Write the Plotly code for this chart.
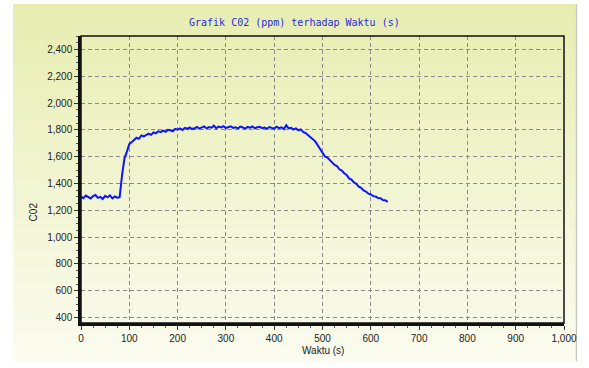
import plotly.graph_objects as go

# ---- data ----
time_s = list(range(0, 640, 5))
co2_ppm = [
    1302, 1291, 1310, 1296, 1289, 1306, 1314, 1293, 1300, 1285, 1308, 1297, 1312, 1290, 1303, 1294,
    1298, 1462, 1588, 1638, 1694, 1709, 1727, 1741, 1733, 1758, 1751, 1764, 1772, 1763, 1781, 1774,
    1789, 1783, 1794, 1786, 1801, 1797, 1790, 1808, 1802, 1811, 1799, 1814, 1808, 1819, 1806, 1812,
    1822, 1810, 1818, 1826, 1811, 1821, 1816, 1831, 1813, 1824, 1819, 1828, 1814, 1822, 1827, 1815,
    1820, 1811, 1824, 1818, 1809, 1822, 1816, 1826, 1812, 1819, 1823, 1813, 1818, 1808, 1821, 1815,
    1810, 1824, 1813, 1819, 1806, 1834, 1812, 1816, 1803, 1811, 1797, 1804, 1785, 1776, 1762, 1750,
    1731, 1714, 1688, 1662, 1627, 1602, 1594, 1574, 1561, 1538, 1530, 1506, 1497, 1476, 1464, 1438,
    1430, 1408, 1398, 1376, 1368, 1349, 1340, 1324, 1318, 1306, 1304, 1291, 1290, 1277, 1276, 1263,
]
x_ticks = [0, 100, 200, 300, 400, 500, 600, 700, 800, 900, 1000]
y_ticks = [400, 600, 800, 1000, 1200, 1400, 1600, 1800, 2000, 2200, 2400]
title_text = "Grafik C02 (ppm) terhadap Waktu (s)"
x_title = "Waktu (s)"
y_title = "C02"

W, H = 589, 368
L, R, T, B = 81, 571, 36, 323.5
pw, ph = R - L, B - T


def px(x):
    return (x - L) / pw


def py(y):
    return (B - y) / ph


fig = go.Figure()
fig.add_trace(go.Scatter(x=time_s, y=co2_ppm, mode="lines",
                         line=dict(color="#0a14ff", width=2), showlegend=False))

shapes = []
# panel gradient
top_c = (231, 237, 176)
bot_c = (251, 252, 240)
n = 60
y0p, y1p = 4, 362
for i in range(n):
    a = y0p + (y1p - y0p) * i / n
    b = y0p + (y1p - y0p) * (i + 1) / n
    f = (i + 0.5) / n
    c = tuple(int(round(top_c[k] + (bot_c[k] - top_c[k]) * f)) for k in range(3))
    shapes.append(dict(type="rect", xref="paper", yref="paper", layer="below",
                       x0=px(12), x1=px(583), y0=py(b + 0.6), y1=py(a),
                       fillcolor="rgb(%d,%d,%d)" % c, line=dict(width=0)))
# panel right border
shapes.append(dict(type="line", xref="paper", yref="paper", layer="below",
                   x0=px(583.5), x1=px(583.5), y0=py(4), y1=py(362),
                   line=dict(color="#b8b8b0", width=1)))
# frame top/right
shapes.append(dict(type="rect", xref="paper", yref="paper", layer="above",
                   x0=0, x1=1, y0=0, y1=1, line=dict(color="#111", width=1.5)))
fig.update_layout(shapes=shapes)

axis_font = dict(family="Liberation Sans, Arial, sans-serif", size=10, color="#222")
common = dict(tickformat=",d", showline=True, linecolor="#111", linewidth=2.5,
              ticks="outside", ticklen=4, tickcolor="#333",
              showgrid=True, gridcolor="#8a8a8a", griddash="4px,3px", gridwidth=1,
              zeroline=False, tickfont=axis_font)
fig.update_xaxes(range=[0, 1000], tickvals=x_ticks,
                 minor=dict(ticks="outside", ticklen=2, dtick=25, tickcolor="#555", showgrid=False),
                 **common)
fig.update_yaxes(range=[360, 2500], tickvals=y_ticks,
                 minor=dict(ticks="outside", ticklen=2, dtick=50, tickcolor="#555", showgrid=False),
                 **common)

fig.update_layout(
    width=W, height=H,
    margin=dict(l=L, r=W - R, t=T, b=H - B),
    paper_bgcolor="white", plot_bgcolor="rgba(0,0,0,0)",
    annotations=[
        dict(text=title_text, xref="paper", yref="paper", x=px(298), y=py(22),
             showarrow=False, xanchor="center", yanchor="middle",
             font=dict(family="DejaVu Sans Mono, monospace", size=10, color="#2a2ae0")),
        dict(text=x_title, xref="paper", yref="paper", x=px(326), y=py(351),
             showarrow=False, xanchor="center", yanchor="middle", font=axis_font),
        dict(text=y_title, xref="paper", yref="paper", x=px(33), y=py(212),
             showarrow=False, xanchor="center", yanchor="middle", textangle=-90, font=axis_font),
    ],
)

fig.write_html("out.html")
